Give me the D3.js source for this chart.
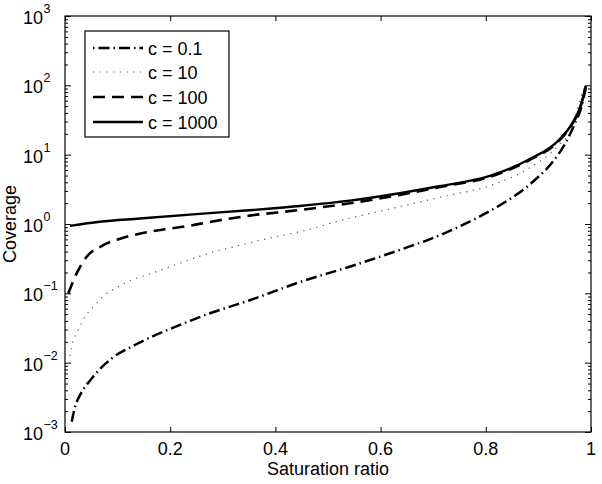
<!DOCTYPE html>
<html>
<head>
<meta charset="utf-8">
<script src="https://cdn.jsdelivr.net/npm/d3@7"></script>
<style>
  html, body { margin: 0; padding: 0; background: #fff; }
  svg { display: block; }
  text { font-family: "Liberation Sans", Arial, sans-serif; fill: #000; }
</style>
</head>
<body>
<svg id="chart" width="602" height="484"></svg>
<script>
// ---- data ----
const xTicks = [0, 0.2, 0.4, 0.6, 0.8, 1];
const xTickLabels = ["0", "0.2", "0.4", "0.6", "0.8", "1"];
const yDecades = [-3, -2, -1, 0, 1, 2, 3];

const seriesNames = ["c = 0.1", "c = 10", "c = 100", "c = 1000"];

const xC01 = [0.0127, 0.019, 0.0285, 0.0507, 0.0886, 0.1266, 0.1645, 0.2025, 0.2404, 0.2784, 0.3226, 0.36, 0.446, 0.541, 0.636, 0.711, 0.781, 0.83, 0.86, 0.9, 0.925, 0.952, 0.971, 0.98, 0.99];
const yC01 = [0.0014, 0.0023, 0.0034, 0.0059, 0.0115, 0.0170, 0.0236, 0.0313, 0.0408, 0.0525, 0.0675, 0.084, 0.145, 0.242, 0.422, 0.68, 1.2, 1.93, 2.7, 4.8, 7.5, 15.0, 30, 44, 90];

const xC10 = [0.0095, 0.0127, 0.0252, 0.038, 0.057, 0.0759, 0.101, 0.1266, 0.1645, 0.2087, 0.253, 0.297, 0.3416, 0.373, 0.446, 0.541, 0.636, 0.724, 0.806, 0.882, 0.939, 0.964, 0.983, 0.99];
const yC10 = [0.0125, 0.017, 0.0295, 0.0459, 0.0678, 0.0945, 0.1245, 0.1556, 0.1945, 0.256, 0.337, 0.422, 0.514, 0.588, 0.775, 1.21, 1.78, 2.54, 3.53, 6.36, 13.8, 24, 77, 97];

const xC100 = [0.0063, 0.0222, 0.0412, 0.0696, 0.1076, 0.1455, 0.1898, 0.234, 0.278, 0.351, 0.446, 0.541, 0.636, 0.711, 0.806, 0.882, 0.939, 0.964, 0.98, 0.99];
const yC100 = [0.100, 0.194, 0.337, 0.481, 0.622, 0.734, 0.839, 0.936, 1.08, 1.32, 1.59, 1.99, 2.62, 3.4, 4.75, 8.3, 15.8, 27.5, 49, 97];

const xC1000 = [0.0095, 0.066, 0.142, 0.256, 0.35, 0.446, 0.541, 0.636, 0.711, 0.806, 0.882, 0.939, 0.964, 0.98, 0.99];
const yC1000 = [0.94, 1.08, 1.20, 1.40, 1.58, 1.82, 2.17, 2.78, 3.5, 4.9, 8.5, 16.3, 28, 50, 98];

// ---- layout ----
const svg = d3.select("#chart");
const L = 65, R = 591, T = 16, B = 432;
const FS = 18;

const x = d3.scaleLinear().domain([0, 1]).range([L, R]);
const y = d3.scaleLog().domain([1e-3, 1e3]).range([B, T]);

const styles = [
  { width: 2.5, dash: "11,4,1.5,4", color: "#000" },
  { width: 1.2, dash: "1.2,5.5", color: "#555" },
  { width: 2.6, dash: "12,7", color: "#000" },
  { width: 2.4, dash: null, color: "#000" }
];

const series = [
  xC01.map((v, i) => [v, yC01[i]]),
  xC10.map((v, i) => [v, yC10[i]]),
  xC100.map((v, i) => [v, yC100[i]]),
  xC1000.map((v, i) => [v, yC1000[i]])
];

// clip
svg.append("clipPath").attr("id", "clip")
  .append("rect").attr("x", L).attr("y", T).attr("width", R - L).attr("height", B - T);

const line = d3.line().x(d => x(d[0])).y(d => y(d[1])).curve(d3.curveMonotoneX);

const g = svg.append("g").attr("clip-path", "url(#clip)");
series.forEach((s, i) => {
  const st = styles[i];
  g.append("path").datum(s)
    .attr("d", line)
    .attr("fill", "none")
    .attr("stroke", st.color)
    .attr("stroke-width", st.width)
    .attr("stroke-dasharray", st.dash)
    .attr("stroke-linejoin", "round");
});

// ---- axes ----
const minorVals = [];
yDecades.slice(0, -1).forEach(e => { for (let k = 2; k <= 9; k++) minorVals.push(k * Math.pow(10, e)); });
const majorVals = yDecades.map(e => Math.pow(10, e));

function styleAxis(sel) {
  sel.select(".domain").remove();
  sel.selectAll("line").attr("stroke", "#000").attr("stroke-width", 1);
  sel.selectAll("text").remove();
}

svg.append("g").attr("transform", `translate(0,${B})`)
  .call(d3.axisBottom(x).tickValues(xTicks).tickSize(-5)).call(styleAxis);
svg.append("g").attr("transform", `translate(0,${T})`)
  .call(d3.axisTop(x).tickValues(xTicks).tickSize(-5)).call(styleAxis);
svg.append("g").attr("transform", `translate(${L},0)`)
  .call(d3.axisLeft(y).tickValues(majorVals).tickSize(-6)).call(styleAxis);
svg.append("g").attr("transform", `translate(${L},0)`)
  .call(d3.axisLeft(y).tickValues(minorVals).tickSize(-3)).call(styleAxis);
svg.append("g").attr("transform", `translate(${R},0)`)
  .call(d3.axisRight(y).tickValues(majorVals).tickSize(-6)).call(styleAxis);
svg.append("g").attr("transform", `translate(${R},0)`)
  .call(d3.axisRight(y).tickValues(minorVals).tickSize(-3)).call(styleAxis);

// frame
svg.append("rect").attr("x", L).attr("y", T).attr("width", R - L).attr("height", B - T)
  .attr("fill", "none").attr("stroke", "#000").attr("stroke-width", 1.2);

// x tick labels
svg.append("g").selectAll("text").data(xTicks).join("text")
  .attr("x", d => x(d)).attr("y", B + 23)
  .attr("text-anchor", "middle").attr("font-size", FS)
  .text((d, i) => xTickLabels[i]);

// y tick labels 10^e
const yl = svg.append("g");
yDecades.forEach(e => {
  const yy = y(Math.pow(10, e));
  yl.append("text").attr("x", 43).attr("y", yy + 8)
    .attr("text-anchor", "end").attr("font-size", FS).text("10");
  yl.append("text").attr("x", 43.5).attr("y", yy - 3)
    .attr("text-anchor", "start").attr("font-size", 12.5)
    .text(e < 0 ? "\u2212" + Math.abs(e) : String(e));
});

// axis titles
svg.append("text").attr("x", (L + R) / 2).attr("y", 475)
  .attr("text-anchor", "middle").attr("font-size", FS).text("Saturation ratio");
svg.append("text").attr("transform", `translate(16,${(T + B) / 2}) rotate(-90)`)
  .attr("text-anchor", "middle").attr("font-size", FS).text("Coverage");

// ---- legend ----
const lg = svg.append("g");
lg.append("rect").attr("x", 85).attr("y", 31).attr("width", 144).attr("height", 106)
  .attr("fill", "#fff").attr("stroke", "#000").attr("stroke-width", 1.2);
const legY = [48, 72, 97, 122];
seriesNames.forEach((name, i) => {
  const st = styles[i];
  lg.append("line").attr("x1", 93).attr("x2", 143).attr("y1", legY[i]).attr("y2", legY[i])
    .attr("stroke", st.color).attr("stroke-width", st.width)
    .attr("stroke-dasharray", i === 0 ? "1.5,4,11,4" : st.dash);
  lg.append("text").attr("x", 148).attr("y", legY[i] + 6.5)
    .attr("font-size", FS).text(name);
});
</script>
</body>
</html>
